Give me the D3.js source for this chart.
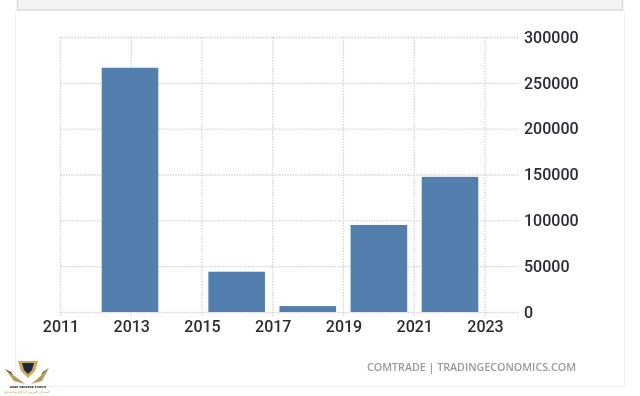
<!DOCTYPE html>
<html>
<head>
<meta charset="utf-8">
<script src="https://cdn.jsdelivr.net/npm/d3@7"></script>
<style>
html, body { margin: 0; padding: 0; background: #fff; }
svg { display: block; filter: blur(0.35px); }
</style>
</head>
<body>
<svg id="chart" width="640" height="396"></svg>
<script>
const years = [2013, 2016, 2018, 2020, 2022];
const values = [267000, 44500, 7000, 95500, 148000];
const xTicks = [2011, 2013, 2015, 2017, 2019, 2021, 2023];
const yTicks = [0, 50000, 100000, 150000, 200000, 250000, 300000];
const source = "COMTRADE | TRADINGECONOMICS.COM";

const svg = d3.select("#chart");
const x = d3.scaleLinear().domain([2011, 2023]).range([60.5, 485]);
const y = d3.scaleLinear().domain([0, 300000]).range([312.5, 37.5]);
// bars do not line up exactly with the year grid in the original
const xBar = d3.scaleLinear().domain([2013, 2022]).range([130, 450]);
const barW = x(2012.6) - x(2011);

// page furniture: grey box on top, faint panel edges
svg.append("rect").attr("x", 17.5).attr("y", -5).attr("width", 605).attr("height", 15)
    .attr("fill", "#f3f3f3").attr("stroke", "#d8d8d8").attr("stroke-width", 1.5);
svg.append("path").attr("d", "M15.5,10V386.5H624.5V10").attr("fill", "none").attr("stroke", "#f2f2f2");

// grid
const grid = svg.append("g").attr("fill", "none").attr("stroke", "#d0d0d0").attr("stroke-width", 1.3).attr("stroke-dasharray", "1.4,1.4");
grid.selectAll("line.h").data(yTicks).join("line").attr("class", "h")
    .attr("x1", x(2011)).attr("x2", 519).attr("y1", d => y(d)).attr("y2", d => y(d));
grid.selectAll("line.v").data(xTicks).join("line").attr("class", "v")
    .attr("x1", d => x(d)).attr("x2", d => x(d)).attr("y1", y(300000)).attr("y2", y(0) + 4);

// bars
svg.selectAll("rect.bar").data(years).join("rect").attr("class", "bar")
    .attr("x", d => xBar(d) - barW / 2).attr("width", barW)
    .attr("y", (d, i) => y(values[i])).attr("height", (d, i) => y(0) - y(values[i]) - 0.5)
    .attr("fill", "#537fae");

// axes
const xAxis = svg.append("g").attr("transform", `translate(0,${y(0)})`)
    .call(d3.axisBottom(x).tickValues(xTicks).tickFormat(d3.format("d")).tickSize(0).tickPadding(8));
const yAxis = svg.append("g").attr("transform", "translate(524,0)")
    .call(d3.axisRight(y).tickValues(yTicks).tickFormat(d3.format("d")).tickSize(0).tickPadding(0));
[xAxis, yAxis].forEach(a => {
    a.select(".domain").remove();
    a.selectAll("text").attr("font-family", "Roboto, 'Liberation Sans', sans-serif").attr("font-size", 16).attr("font-weight", 500).attr("fill", "#2a2a34");
});
yAxis.selectAll("text").attr("dy", "0.3em");

svg.append("text").attr("x", 576).attr("y", 371).attr("text-anchor", "end")
    .attr("font-family", "'Open Sans', 'DejaVu Sans', sans-serif").attr("font-size", 10.7).attr("font-weight", 600)
    .attr("fill", "#999").text(source);

// watermark logo
const logo = svg.append("g");
logo.append("path").attr("d", "M18,361L38,361L35,371L28,378L21,371Z").attr("fill", "#c9a860");
logo.append("path").attr("d", "M22,363L34,363L32,370L28,374L24,370Z").attr("fill", "#1c2a35");
logo.append("path").attr("d", "M5,369L20,380L25,384L14,381Z M49,368L36,380L31,384L42,381Z").attr("fill", "#b89b5e");
logo.append("path").attr("d", "M5,369L11,372L13,375Z M49,368L43,372L41,375Z").attr("fill", "#222");
logo.append("text").attr("x", 28).attr("y", 388).attr("text-anchor", "middle")
    .attr("font-family", "'DejaVu Sans', sans-serif").attr("font-size", 2.8).attr("font-weight", "bold").attr("fill", "#222").text("ARAB DEFENSE FORUM");
logo.append("text").attr("x", 27).attr("y", 393).attr("text-anchor", "middle")
    .attr("font-family", "'DejaVu Sans', sans-serif").attr("font-size", 3.6).attr("fill", "#c9a860").text("المنتدى العربي للدفاع والتسليح");
</script>
</body>
</html>
